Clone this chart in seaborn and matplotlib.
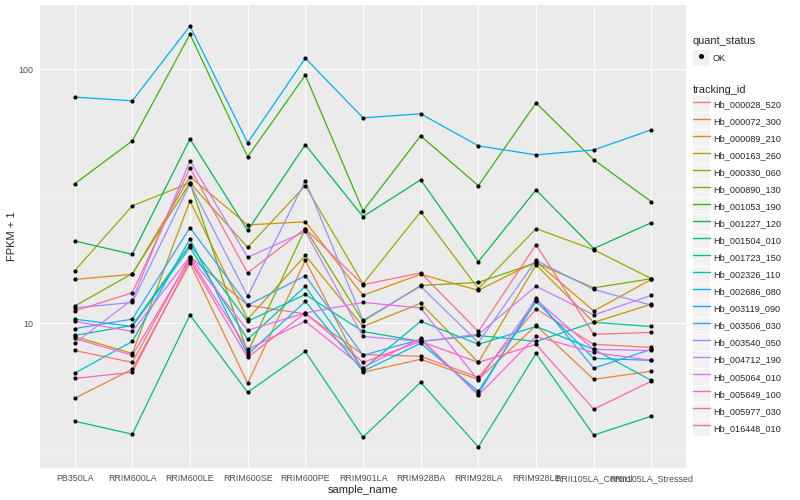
import pandas as pd
import numpy as np
import seaborn as sns
from matplotlib import pyplot as plt
from matplotlib.lines import Line2D
from matplotlib.patches import Patch
from matplotlib import ticker


# Samples along the x axis
samples = ['PB350LA', 'RRIM600LA', 'RRIM600LE', 'RRIM600SE', 'RRIM600PE', 'RRIM901LA',
           'RRIM928BA', 'RRIM928LA', 'RRIM928LE', 'RRII105LA_Control', 'RRII105LA_Stressed']

# FPKM + 1 for each gene
Hb_000028_520 = [7.83, 7.03, 18.3, 11.8, 10.9, 7.55, 7.43, 6.14, 11.4, 8.28, 8.05]
Hb_000072_300 = [5.08, 6.61, 17.3, 5.82, 17.7, 6.43, 7.23, 6.03, 9.82, 6.03, 6.49]
Hb_000089_210 = [14.9, 15.6, 37.7, 24.4, 25.1, 12.9, 15.6, 13.5, 17.5, 11.2, 14.9]
Hb_000163_260 = [8.89, 7.62, 30.3, 10.4, 18.5, 9.73, 12.0, 7.03, 17.0, 10.1, 11.9]
Hb_000330_060 = [16.1, 29.0, 35.7, 19.9, 34.8, 14.3, 27.5, 13.7, 23.6, 19.5, 15.0]
Hb_000890_130 = [11.7, 15.7, 35.7, 7.69, 23.6, 10.2, 14.1, 14.5, 17.3, 13.8, 15.0]
Hb_001053_190 = [35.4, 52.2, 137.0, 45.2, 94.6, 27.7, 54.6, 34.8, 73.6, 44.0, 30.1]
Hb_001227_120 = [21.1, 18.7, 53.1, 23.2, 50.4, 26.3, 36.7, 17.5, 33.5, 19.7, 24.9]
Hb_001504_010 = [4.13, 3.67, 10.8, 5.36, 7.76, 3.57, 5.87, 3.27, 7.62, 3.64, 4.32]
Hb_001723_150 = [8.97, 9.82, 20.4, 10.2, 13.0, 9.30, 8.50, 8.97, 8.50, 10.1, 9.73]
Hb_002326_110 = [10.4, 9.73, 19.9, 8.65, 14.0, 6.61, 10.2, 8.28, 9.73, 7.91, 5.97]
Hb_002686_080 = [6.37, 8.50, 21.5, 7.55, 12.2, 6.49, 8.36, 5.41, 12.2, 7.29, 7.16]
Hb_003119_090 = [77.6, 75.0, 147.6, 51.3, 110.4, 64.3, 66.7, 49.9, 46.0, 48.1, 57.7]
Hb_003506_030 = [9.55, 10.4, 23.8, 11.8, 15.4, 7.50, 8.65, 5.27, 12.6, 6.67, 7.91]
Hb_003540_050 = [11.5, 12.1, 35.4, 12.8, 36.4, 10.3, 14.0, 8.41, 17.7, 13.6, 11.8]
Hb_004712_190 = [8.36, 12.4, 43.6, 18.2, 23.0, 8.89, 8.50, 9.06, 14.0, 10.8, 12.9]
Hb_005064_010 = [10.2, 9.30, 18.3, 9.40, 11.0, 12.1, 11.5, 5.97, 12.4, 7.91, 7.83]
Hb_005649_100 = [8.73, 7.50, 18.0, 7.91, 10.2, 6.71, 8.73, 5.22, 8.89, 7.69, 7.16]
Hb_005977_030 = [6.08, 6.43, 17.7, 7.36, 11.0, 7.03, 8.50, 7.03, 8.28, 4.60, 5.93]
Hb_016448_010 = [11.2, 13.2, 40.9, 15.8, 23.6, 14.2, 15.8, 9.30, 20.4, 9.06, 9.22]

genes = {
    'Hb_000028_520': Hb_000028_520, 'Hb_000072_300': Hb_000072_300,
    'Hb_000089_210': Hb_000089_210, 'Hb_000163_260': Hb_000163_260,
    'Hb_000330_060': Hb_000330_060, 'Hb_000890_130': Hb_000890_130,
    'Hb_001053_190': Hb_001053_190, 'Hb_001227_120': Hb_001227_120,
    'Hb_001504_010': Hb_001504_010, 'Hb_001723_150': Hb_001723_150,
    'Hb_002326_110': Hb_002326_110, 'Hb_002686_080': Hb_002686_080,
    'Hb_003119_090': Hb_003119_090, 'Hb_003506_030': Hb_003506_030,
    'Hb_003540_050': Hb_003540_050, 'Hb_004712_190': Hb_004712_190,
    'Hb_005064_010': Hb_005064_010, 'Hb_005649_100': Hb_005649_100,
    'Hb_005977_030': Hb_005977_030, 'Hb_016448_010': Hb_016448_010,
}

# ggplot default hue palette for 20 groups
hue_colors = ['#F8766D', '#EA8331', '#D89000', '#C09B00', '#A3A500', '#7CAE00', '#39B600',
              '#00BB4E', '#00BF7D', '#00C1A3', '#00BFC4', '#00BAE0', '#00B0F6', '#35A2FF',
              '#9590FF', '#C77CFF', '#E76BF3', '#FA62DB', '#FF62BC', '#FF6C91']

rows = []
for gid, vals in genes.items():
    for s, v in zip(samples, vals):
        rows.append({'tracking_id': gid, 'sample_name': s, 'fpkm': v, 'quant_status': 'OK'})
df = pd.DataFrame(rows)


sns.set_theme(style='darkgrid', rc={'axes.facecolor': '#EBEBEB', 'grid.color': 'white'})
plt.rcParams['font.family'] = ['Liberation Sans', 'DejaVu Sans']

fig = plt.figure(figsize=(8, 5), dpi=100)
ax = fig.add_axes([0.05, 0.064, 0.8075, 0.926])

sns.lineplot(data=df, x='sample_name', y='fpkm', hue='tracking_id', palette=hue_colors,
             linewidth=0.9, sort=False, legend=False, ax=ax)
sns.scatterplot(data=df, x='sample_name', y='fpkm', color='black', s=9, linewidth=0,
                legend=False, ax=ax, zorder=5)

# log10 scale with ggplot style breaks
ax.set_yscale('log')
lo, hi = np.log10(df['fpkm'].min()), np.log10(df['fpkm'].max())
pad = (hi - lo) * 0.05
ax.set_ylim(10 ** (lo - pad), 10 ** (hi + pad))
ax.yaxis.set_major_locator(ticker.FixedLocator([10, 100]))
ax.yaxis.set_major_formatter(ticker.FixedFormatter(['10', '100']))
ax.yaxis.set_minor_locator(ticker.FixedLocator([10 ** 0.5, 10 ** 1.5]))
ax.yaxis.set_minor_formatter(ticker.NullFormatter())
ax.set_xlim(-0.6, len(samples) - 0.4)

ax.grid(which='major', color='white', linewidth=0.85)
ax.grid(which='minor', axis='y', color='#F5F5F5', linewidth=0.45)
for sp in ax.spines.values():
    sp.set_visible(False)
ax.tick_params(axis='both', which='major', length=3, width=0.5, color='#333333',
               labelsize=6.4, labelcolor='#4D4D4D', pad=1.5)
ax.tick_params(axis='y', which='minor', length=0)
ax.set_xlabel('sample_name', fontsize=8, labelpad=1)
ax.set_ylabel('FPKM + 1', fontsize=8, labelpad=1)

# Legends
key_bg = '#F2F2F2'
status_handles = [(Patch(facecolor=key_bg, edgecolor='none'),
                   Line2D([], [], linestyle='none', marker='o', markersize=2.6, color='black'))]
leg1 = fig.legend(status_handles, ['OK'], title='quant_status', loc='upper left',
                  bbox_to_anchor=(0.866, 0.929), frameon=False, fontsize=6.6,
                  title_fontsize=7.9, handlelength=1.85, handleheight=2.35,
                  handletextpad=0.35, borderaxespad=0, borderpad=0, alignment='left')

track_handles = [(Patch(facecolor=key_bg, edgecolor='none'),
                  Line2D([], [], color=c, linewidth=1.0)) for c in hue_colors]
leg2 = fig.legend(track_handles, list(genes.keys()), title='tracking_id', loc='upper left',
                  bbox_to_anchor=(0.866, 0.830), frameon=False, fontsize=6.6,
                  title_fontsize=7.9, handlelength=1.85, handleheight=2.3,
                  handletextpad=0.35, labelspacing=0.12, borderaxespad=0, borderpad=0,
                  alignment='left')

plt.savefig('out.png', dpi=100)
